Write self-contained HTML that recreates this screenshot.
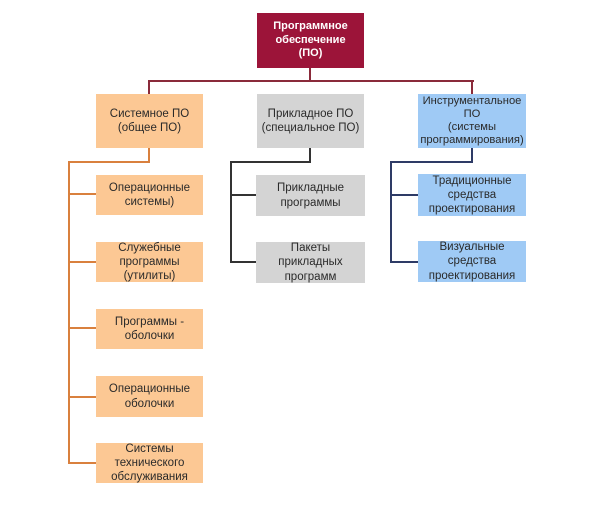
<!DOCTYPE html>
<html><head><meta charset="utf-8"><style>
html,body{margin:0;padding:0;background:#fff;}
body{width:600px;height:506px;position:relative;overflow:hidden;font-family:"Liberation Sans","Noto Sans CJK SC",sans-serif;}
.b{position:absolute;display:flex;align-items:center;justify-content:center;text-align:center;font-size:11.5px;line-height:14.2px;color:#2a2a2a;box-sizing:border-box;}
.o{background:#fcc894;}
.g{background:#d4d4d4;}
.u{background:#9fcaf5;}
.r{background:#9c1439;color:#fff;font-weight:bold;font-size:11px;line-height:13.5px;}
.l{position:absolute;}
</style></head><body>
<!-- connectors -->
<div class="l" style="left:309px;top:68px;width:2px;height:14px;background:#8a2a3a"></div>
<div class="l" style="left:148px;top:80px;width:326px;height:2px;background:#8a2a3a"></div>
<div class="l" style="left:148px;top:80px;width:2px;height:14px;background:#8a2a3a"></div>
<div class="l" style="left:471px;top:80px;width:2px;height:14px;background:#8a2a3a"></div>

<!-- orange connectors -->
<div class="l" style="left:148px;top:148px;width:2px;height:15px;background:#d9803e"></div>
<div class="l" style="left:68px;top:161px;width:82px;height:2px;background:#d9803e"></div>
<div class="l" style="left:68px;top:161px;width:2px;height:303px;background:#d9803e"></div>
<div class="l" style="left:68px;top:193px;width:28px;height:2px;background:#d9803e"></div>
<div class="l" style="left:68px;top:261px;width:28px;height:2px;background:#d9803e"></div>
<div class="l" style="left:68px;top:327px;width:28px;height:2px;background:#d9803e"></div>
<div class="l" style="left:68px;top:396px;width:28px;height:2px;background:#d9803e"></div>
<div class="l" style="left:68px;top:462px;width:28px;height:2px;background:#d9803e"></div>

<!-- gray connectors -->
<div class="l" style="left:309px;top:148px;width:2px;height:14px;background:#333"></div>
<div class="l" style="left:230px;top:161px;width:81px;height:2px;background:#333"></div>
<div class="l" style="left:230px;top:161px;width:2px;height:102px;background:#333"></div>
<div class="l" style="left:230px;top:194px;width:27px;height:2px;background:#333"></div>
<div class="l" style="left:230px;top:261px;width:27px;height:2px;background:#333"></div>

<!-- blue connectors -->
<div class="l" style="left:471px;top:148px;width:2px;height:14px;background:#2e3b66"></div>
<div class="l" style="left:390px;top:161px;width:83px;height:2px;background:#2e3b66"></div>
<div class="l" style="left:390px;top:161px;width:2px;height:102px;background:#2e3b66"></div>
<div class="l" style="left:390px;top:194px;width:28px;height:2px;background:#2e3b66"></div>
<div class="l" style="left:390px;top:261px;width:28px;height:2px;background:#2e3b66"></div>

<!-- boxes -->
<div class="b r" style="left:257px;top:13px;width:107px;height:55px;">Программное<br>обеспечение<br>(ПО)</div>

<div class="b o" style="left:96px;top:94px;width:107px;height:54px;">Системное ПО<br>(общее ПО)</div>
<div class="b g" style="left:257px;top:94px;width:107px;height:54px;">Прикладное ПО<br>(специальное ПО)</div>
<div class="b u" style="left:418px;top:94px;width:108px;height:54px;line-height:13px;font-size:11.2px;">Инструментальное<br>ПО<br>(системы<br>программирования)</div>

<div class="b o" style="left:96px;top:175px;width:107px;height:40px;">Операционные<br>системы)</div>
<div class="b o" style="left:96px;top:242px;width:107px;height:40px;">Служебные<br>программы<br>(утилиты)</div>
<div class="b o" style="left:96px;top:309px;width:107px;height:40px;">Программы -<br>оболочки</div>
<div class="b o" style="left:96px;top:376px;width:107px;height:41px;">Операционные<br>оболочки</div>
<div class="b o" style="left:96px;top:443px;width:107px;height:40px;">Системы<br>технического<br>обслуживания</div>

<div class="b g" style="left:256px;top:175px;width:109px;height:41px;">Прикладные<br>программы</div>
<div class="b g" style="left:256px;top:242px;width:109px;height:41px;">Пакеты<br>прикладных<br>программ</div>

<div class="b u" style="left:418px;top:174px;width:108px;height:42px;">Традиционные<br>средства<br>проектирования</div>
<div class="b u" style="left:418px;top:241px;width:108px;height:41px;">Визуальные<br>средства<br>проектирования</div>
</body></html>
